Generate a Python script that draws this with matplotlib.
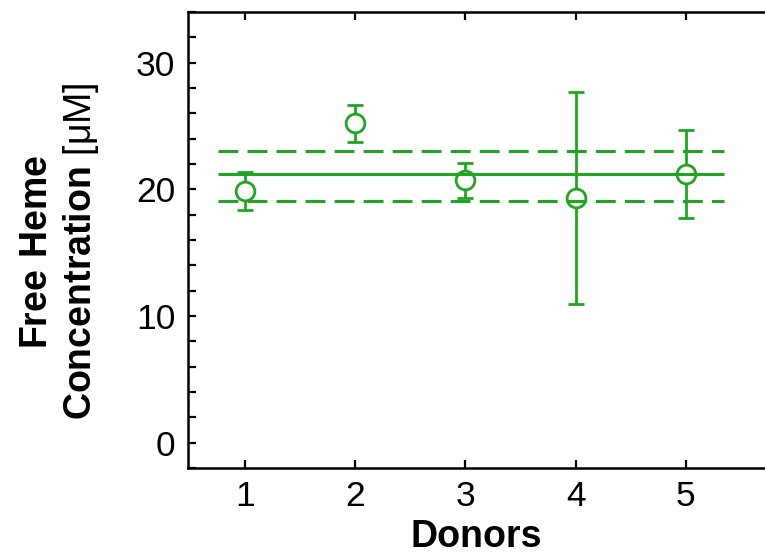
"""Free heme concentration per donor, mean +/- SD with overall mean band."""
import numpy as np
import matplotlib
matplotlib.use("Agg")
import matplotlib.pyplot as plt
from matplotlib.ticker import MultipleLocator

# Dados
donors = [1, 2, 3, 4, 5]
heme_mean = [19.9, 25.2, 20.7, 19.3, 21.2]
heme_err = [1.5, 1.45, 1.35, 8.35, 3.5]
overall_mean = 21.2
band_low = 19.1
band_high = 23.05

GREEN = "#22a322"

plt.rcParams["font.family"] = ["Liberation Sans", "DejaVu Sans"]
plt.rcParams["mathtext.fontset"] = "custom"
plt.rcParams["mathtext.rm"] = "Liberation Sans"
plt.rcParams["mathtext.bf"] = "Liberation Sans:bold"

fig = plt.figure(figsize=(7.65, 5.6), dpi=100)
ax = fig.add_axes([188 / 765, 1 - 468 / 560, 1 - 188 / 765, (468 - 12) / 560])

# Média geral e faixa
ax.hlines(overall_mean, 0.75, 5.35, color=GREEN, lw=2.2, zorder=3)
for yv in (band_low, band_high):
    ax.hlines(yv, 0.75, 5.35, color=GREEN, lw=2.2, linestyles=(0, (6.5, 3)), zorder=3)

ax.errorbar(donors, heme_mean, yerr=heme_err, fmt="o", color=GREEN,
            mfc="white", mec=GREEN, ms=13.5, mew=2.0, elinewidth=2.0,
            capsize=5.6, capthick=2.0, zorder=2)

ax.set_xlim(0.48, 5.72)
ax.set_ylim(-2, 34)
ax.xaxis.set_major_locator(MultipleLocator(1))
ax.yaxis.set_major_locator(MultipleLocator(10))
ax.yaxis.set_minor_locator(MultipleLocator(2))

ax.spines["right"].set_visible(False)
for s in ("left", "bottom", "top"):
    ax.spines[s].set_linewidth(1.8)

ax.tick_params(which="both", direction="in", length=6, width=1.6,
               top=True, right=False, labelsize=25.5)
ax.tick_params(axis="y", pad=9)
ax.tick_params(axis="x", pad=9)

ax.set_xlabel("Donors", fontsize=27, fontweight="bold", labelpad=4)
ax.set_ylabel("$\\mathbf{Free\\ Heme}$\n$\\mathbf{Concentration}$ [μM]", fontsize=27)
ax.yaxis.set_label_coords(-0.15, 0.475)

plt.savefig("out.png", dpi=100)
plt.close()
